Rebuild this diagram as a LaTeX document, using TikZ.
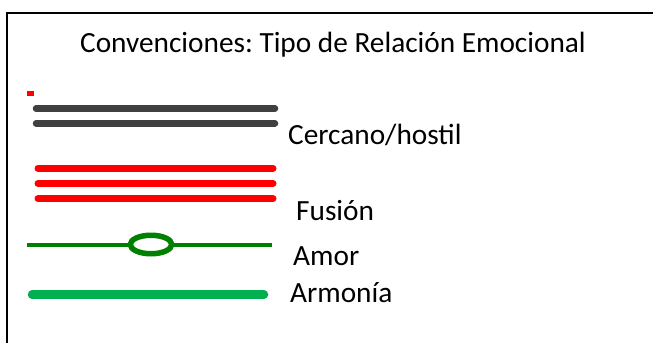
\documentclass[tikz,border=0pt]{standalone}
\usepackage{fontspec}
\setmainfont{Carlito}
\usetikzlibrary{shapes.geometric}
\definecolor{hostilgray}{HTML}{404040}
\definecolor{amorgreen}{HTML}{008000}
\definecolor{armoniagreen}{HTML}{00B050}
\frenchspacing
\begin{document}
\begin{tikzpicture}[x=1pt,y=-1pt,
  lbl/.style={anchor=west,inner sep=0pt,font=\fontsize{29.3}{34}\selectfont},
  gline/.style={line width=6.5pt,line cap=round,draw=hostilgray},
  rline/.style={line width=7pt,line cap=round,draw=red}]
\useasboundingbox (0,0) rectangle (653,343);
\draw[line width=1.3pt] (7,343) -- (7,13) -- (653,13);
\node[inner sep=0pt,font=\fontsize{29.3}{34}\selectfont] (title) at (333,45) {Convenciones: Tipo de Relación Emocional};
\fill[red] (27,91) rectangle (34,96);
\coordinate (g1a) at (36,108.5); \coordinate (g1b) at (275,108.5);
\coordinate (g2a) at (36,123.3); \coordinate (g2b) at (275,123.3);
\draw[gline] (g1a) -- (g1b);
\draw[gline] (g2a) -- (g2b);
\node[lbl] (cerc) at (288,135) {Cercano/hostil};
\coordinate (r1a) at (38,168.3); \coordinate (r1b) at (273,168.3);
\coordinate (r2a) at (38,183.3); \coordinate (r2b) at (273,183.3);
\coordinate (r3a) at (38,198.7); \coordinate (r3b) at (273,198.7);
\draw[rline] (r1a) -- (r1b);
\draw[rline] (r2a) -- (r2b);
\draw[rline] (r3a) -- (r3b);
\node[lbl] (fus) at (296,211) {Fusión};
\coordinate (aa) at (27,244.5); \coordinate (ab) at (272,244.5);
\draw[amorgreen,line width=4pt] (aa) -- (ab);
\node[draw=amorgreen,fill=white,line width=5.5pt,ellipse,minimum width=41.5pt,minimum height=18.5pt,inner sep=0pt] (ov) at (151,244.5) {};
\node[lbl] (amor) at (293,256) {Amor};
\coordinate (ha) at (32,294.7); \coordinate (hb) at (264,294.7);
\draw[armoniagreen,line width=8.5pt,line cap=round] (ha) -- (hb);
\node[lbl] (arm) at (290,293) {Armonía};
\end{tikzpicture}
\end{document}
